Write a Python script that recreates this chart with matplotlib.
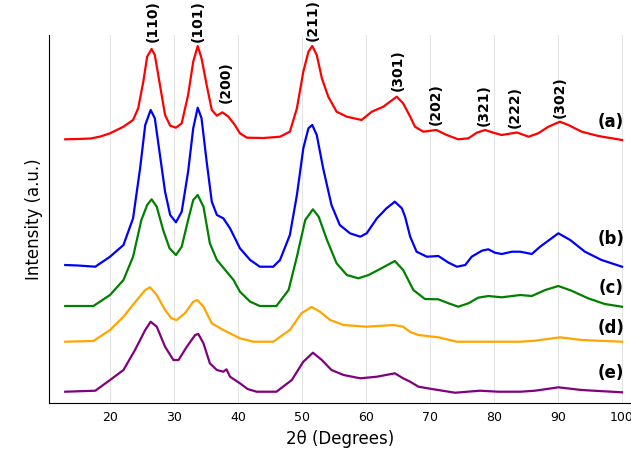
import matplotlib
matplotlib.use("Agg")
import matplotlib.pyplot as plt

# XRD patterns, intensities in arbitrary units (already vertically offset)
theta_a = [13.0, 15.0, 17.0, 18.5, 20.0, 22.1, 23.6, 24.4, 25.2, 25.8, 26.5, 27.0, 27.8, 28.6,
           29.4, 30.3, 31.2, 32.2, 33.0, 33.7, 34.3, 35.1, 35.9, 36.7, 37.55, 38.5, 39.5,
           40.3, 41.4, 44.0, 46.56, 48.1, 49.2, 50.2, 51.0, 51.6, 52.3, 53.1, 54.1, 55.4,
           57.0, 59.3, 60.9, 62.7, 63.75, 64.8, 65.8, 66.9, 67.65, 68.95, 71.0, 72.6, 74.4,
           76.0, 77.3, 78.6, 79.9, 81.2, 82.8, 83.6, 85.4, 86.9, 88.5, 90.3, 91.6, 93.7,
           96.3, 100.0]
int_a = [263.7, 264, 264.5, 266.5, 269.7, 276.3, 283, 294.7, 321.3, 346.3, 354, 348, 318, 288,
         277.3, 275.3, 279.7, 308, 341.3, 357, 344.7, 318, 293, 287.3, 290.7, 286.3, 278,
         269.7, 265.3, 265, 266.3, 271.3, 294.7, 331.3, 351.3, 357, 348, 324.7, 306.3, 291.3,
         286.3, 283, 291.3, 296.3, 301.3, 306.3, 299.7, 286.3, 276.3, 271.3, 273, 268, 263.7,
         264.7, 270.3, 273, 270.3, 268, 269.7, 270.5, 266.3, 269.7, 276.3, 281.3, 278, 271.3,
         267, 263]

theta_b = [13.0, 15.0, 17.7, 20.0, 22.1, 23.6, 24.7, 25.5, 26.35, 27.0, 27.8, 28.6, 29.4, 30.3,
           31.2, 32.2, 33.0, 33.7, 34.3, 35.1, 35.9, 36.7, 37.7, 38.75, 40.3, 41.9, 43.4,
           45.5, 46.56, 48.1, 49.2, 50.2, 51.0, 51.6, 52.3, 53.3, 54.6, 55.9, 57.5, 59.1,
           60.1, 61.7, 63.2, 64.5, 65.6, 66.1, 66.9, 67.9, 69.5, 71.3, 72.9, 74.2, 75.5,
           76.5, 78.1, 79.1, 80.15, 81.2, 82.8, 84.1, 85.9, 87.2, 90.05, 91.9, 94.2, 96.8,
           100.0]
int_b = [138, 137.5, 136.3, 146.3, 158, 184.7, 234.7, 278, 293, 284.7, 248, 211.3, 188, 180.7,
         191.3, 231.3, 274.7, 295.3, 284.7, 241.3, 201.3, 188, 184.7, 174.7, 154.7, 143, 136.3,
         136.3, 143, 168, 208, 254.7, 274.7, 278, 268, 234.7, 198, 178, 169.7, 166.3,
         169.7, 184.7, 194.7, 201.3, 194.7, 186.3, 166.3, 151.3, 146.3, 147, 140.3, 136.3, 138,
         146.3, 152.3, 153.7, 150.3, 149, 151.3, 151.3, 149, 156.3, 169.7, 163, 151.3, 143,
         136.3]

theta_c = [13.0, 17.4, 20.0, 22.1, 23.6, 24.9, 25.8, 26.5, 27.3, 28.3, 29.3, 30.3, 31.2, 32.2,
           33.0, 33.7, 34.6, 35.6, 36.7, 38.0, 39.3, 40.3, 41.9, 43.4, 46.0, 47.9, 49.2,
           50.5, 51.7, 52.6, 53.9, 55.4, 57.0, 58.8, 60.4, 62.4, 64.5, 65.8, 67.4, 69.2,
           71.3, 72.9, 74.4, 76.0, 77.5, 79.1, 81.2, 84.1, 85.9, 88.0, 90.05, 92.1, 94.7,
           97.3, 100.0]
int_c = [97, 97, 108, 123, 146.3, 183, 198, 203.7, 196.3, 173, 154.7, 148, 156.3, 183,
         203, 208, 196.3, 159.7, 143, 133, 123, 111.3, 101.3, 97, 97, 113, 146.3,
         183, 193.7, 186.3, 163, 139.7, 128, 124.7, 128, 134.7, 142, 133, 113, 104,
         103.7, 99.7, 96.3, 99.7, 105.3, 107, 105.7, 108, 107, 113, 117, 112.3, 104.7,
         99, 96.3]

theta_d = [13.0, 17.4, 20.0, 22.1, 24.2, 25.5, 26.25, 27.3, 28.6, 29.6, 30.4, 31.7, 33.0, 33.65,
           34.6, 35.9, 37.7, 40.3, 42.4, 45.5, 48.1, 49.9, 51.5, 52.8, 54.4, 56.5, 60.1,
           64.3, 65.8, 66.9, 68.2, 71.3, 74.2, 79.1, 84.1, 86.4, 90.3, 93.7, 100.0]
int_d = [61.3, 62, 73, 86.3, 103, 113, 115.7, 108, 93, 84.7, 83, 89.7, 101.3, 103,
         96.3, 79.7, 73, 64.7, 61.3, 61.3, 73, 89.7, 96, 91.3, 83, 78, 76.3,
         78, 76.3, 71, 68, 65.7, 61.3, 61.3, 61.3, 62.3, 65.7, 63, 61.3]

theta_e = [13.0, 17.7, 20.0, 22.1, 23.9, 25.5, 26.35, 27.3, 28.6, 29.9, 30.7, 32.0, 33.3, 33.8,
           34.6, 35.6, 36.7, 37.7, 38.2, 38.75, 40.3, 41.5, 42.9, 46.0, 48.4, 50.2, 51.7,
           53.1, 54.6, 56.5, 59.1, 61.7, 64.5, 65.8, 66.9, 68.2, 70.3, 73.9, 77.8, 80.7,
           84.1, 86.4, 90.05, 93.7, 100.0]
int_e = [11.3, 12.3, 23, 33, 53, 73, 81.3, 76.3, 56.3, 43, 43, 56.3, 68, 69,
         59.7, 39.7, 33, 31.3, 33.7, 26.3, 19.7, 14, 11.3, 11.3, 23, 41.3, 50.3,
         43, 33, 28, 24.7, 26.3, 29.7, 24.7, 21.3, 16.3, 14, 10.3, 12.3, 11.3,
         11.3, 12.3, 15.7, 13, 10.7]

sample_labels = ['(a)', '(b)', '(c)', '(d)', '(e)']
colors = ['red', 'blue', 'green', 'orange', 'purple']
label_y = [281, 164, 115, 75, 30]

# Miller indices of the reflections and their 2θ positions
hkl = ['(110)', '(101)', '(200)', '(211)', '(301)', '(202)', '(321)', '(222)', '(302)']
hkl_theta = [26.6, 33.75, 38.1, 51.7, 65.0, 70.9, 78.4, 83.3, 90.3]
hkl_y = [361, 361, 300, 362, 312, 278, 277, 275, 285]

fig = plt.figure(figsize=(6.31, 4.51), dpi=100)
ax = fig.add_axes([0.0777, 0.1064, 0.9223, 0.816])

curves = [(theta_a, int_a), (theta_b, int_b), (theta_c, int_c), (theta_d, int_d), (theta_e, int_e)]
for (t, y), c, lab, ly in zip(curves, colors, sample_labels, label_y):
    ax.plot(t, y, color=c, lw=1.6, solid_joinstyle='round')
    ax.text(98.3, ly, lab, fontsize=12, fontweight='bold', ha='center', va='center')

for lab, t, y in zip(hkl, hkl_theta, hkl_y):
    ax.text(t, y, lab, rotation=90, fontsize=10, fontweight='bold', ha='center', va='bottom')

ax.set_xlim(10.47, 101.4)
ax.set_ylim(0, 368)
ax.set_xticks(range(20, 101, 10))
ax.set_yticks([])
ax.tick_params(axis='x', length=0, pad=6, labelsize=9)
ax.grid(True, axis='x', color='#e5e5e5', lw=0.8)
ax.set_axisbelow(True)
for s in ['top', 'right']:
    ax.spines[s].set_visible(False)
ax.set_xlabel('2θ (Degrees)', fontsize=12)
ax.set_ylabel('Intensity (a.u.)', fontsize=12)

fig.savefig('out.png', dpi=100)
